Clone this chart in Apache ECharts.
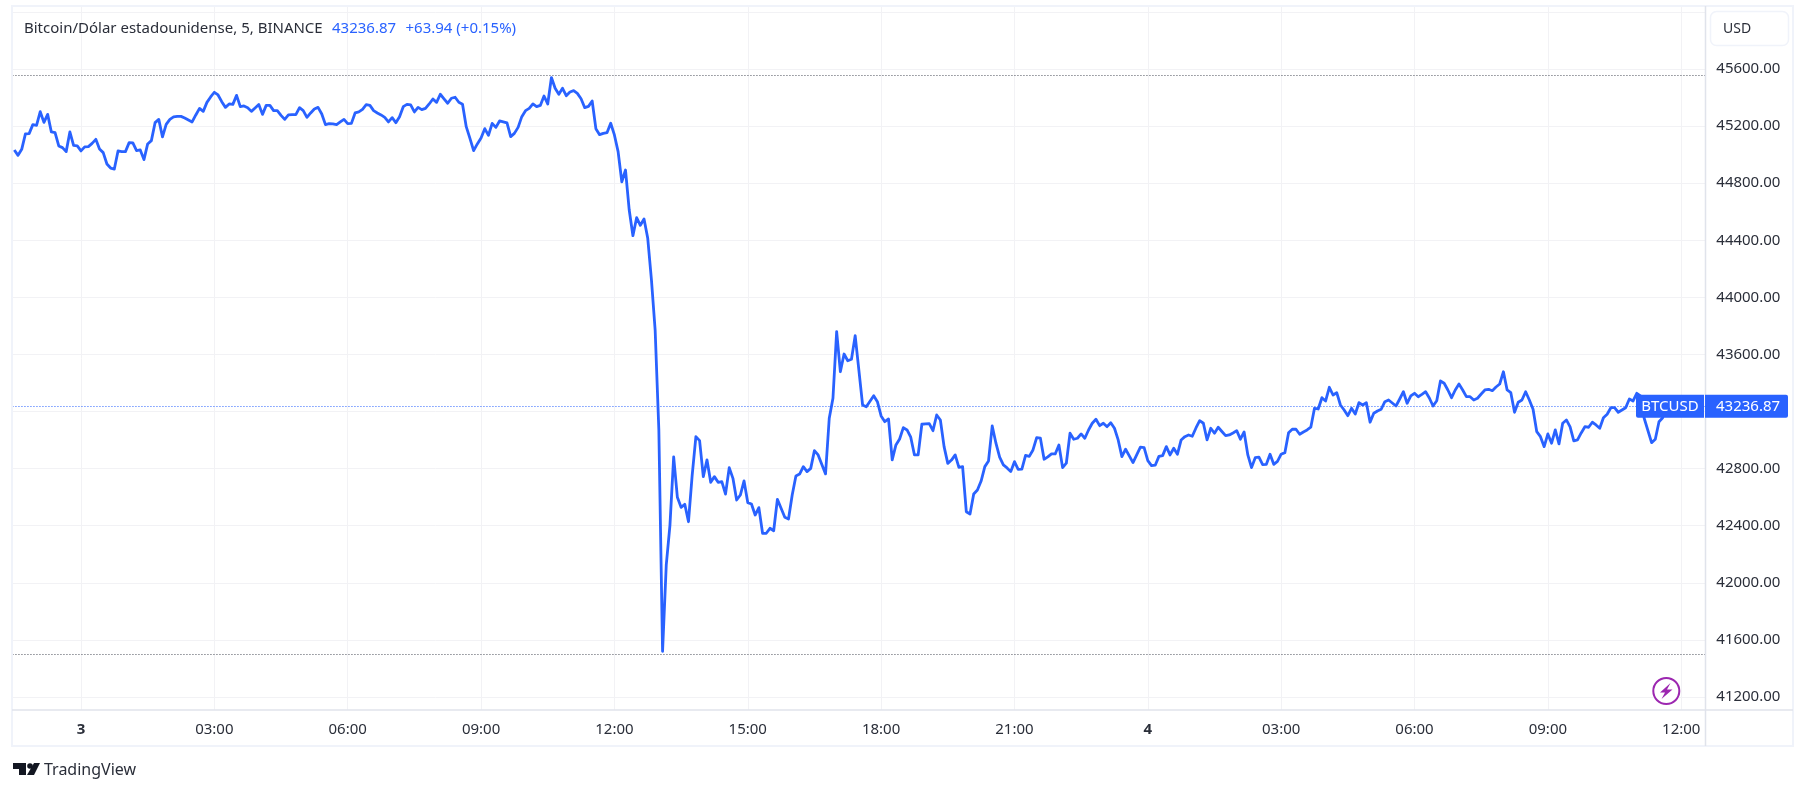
<!DOCTYPE html>
<html>
<head>
<meta charset="utf-8">
<style>html,body{margin:0;padding:0;background:#fff}#c{width:1806px;height:792px}</style>
<script src="https://cdn.jsdelivr.net/npm/echarts@6/dist/echarts.min.js"></script>
</head>
<body>
<div id="c"></div>
<script>
const FONT = '"Noto Sans"';
const TEXT = '#2a2e39';
const BLUE = '#2962ff';
const GRIDLINE = '#f2f2f5';
const FRAME = '#f0f3fa';
const AXISLINE = '#e0e3eb';

const titleText = 'Bitcoin/Dólar estadounidense, 5, BINANCE';
const lastText = '43236.87';
const changeText = '+63.94 (+0.15%)';
const symbolText = 'BTCUSD';
const currencyText = 'USD';
const brandText = 'TradingView';

const dayLabels = {0: '3', 24: '4'};
const slotCount = 457;
const highPrice = 45558;
const lowPrice = 41499;
const lastPrice = 43236.87;
const priceMin = 41200, priceMax = 46000, priceStep = 400;

// close every 5 minutes starting 22:30 on day 2
const prices = [
45033,44995,45037,45145,45147,45210,45205,45301,45226,45282,
45159,45154,45061,45049,45021,45159,45065,45061,45026,45054,
45056,45079,45107,45039,45014,44934,44906,44899,45026,45021,
45021,45084,45082,45028,45033,44965,45075,45098,45224,45247,
45124,45212,45247,45264,45268,45268,45257,45243,45229,45278,
45324,45303,45366,45404,45437,45418,45371,45331,45355,45352,
45415,45336,45341,45329,45303,45327,45352,45282,45345,45345,
45308,45308,45275,45247,45278,45280,45280,45329,45308,45261,
45292,45320,45331,45285,45210,45217,45215,45210,45229,45247,
45217,45219,45292,45299,45317,45350,45345,45308,45292,45278,
45261,45229,45259,45224,45266,45336,45352,45348,45299,45331,
45315,45324,45355,45390,45366,45423,45391,45360,45395,45402,
45367,45353,45196,45114,45028,45075,45117,45182,45135,45219,
45191,45236,45229,45222,45126,45149,45191,45266,45308,45324,
45355,45336,45345,45411,45355,45540,45465,45423,45465,45413,
45439,45448,45429,45392,45329,45338,45376,45182,45140,45149,
45154,45220,45138,45021,44810,44892,44612,44432,44558,44505,
44549,44414,44122,43771,43071,41520,42125,42405,42882,42599,
42529,42550,42428,42755,43024,42996,42744,42861,42704,42744,
42704,42709,42622,42807,42732,42580,42615,42714,42562,42552,
42475,42527,42347,42347,42382,42365,42585,42522,42459,42447,
42615,42748,42762,42814,42779,42802,42926,42896,42829,42763,
43153,43293,43760,43479,43603,43556,43566,43732,null,43246,
43234,null,43311,43269,43169,43129,43148,42861,42966,43008,
43087,43071,43020,42896,42896,43111,43113,43115,43066,43176,
43141,42954,42837,42860,42896,42809,42814,42498,42482,42622,
42650,42713,42814,42854,43099,42978,42880,42826,42805,42779,
42849,42795,42797,42893,42886,42931,43017,43013,42866,42882,
42903,42903,42966,42807,42838,43048,43006,43013,43043,43013,
43071,43118,43146,43101,43118,43094,43122,43083,43001,42884,
42936,42889,42842,42896,42950,42947,42856,42821,42824,42886,
42891,42954,42896,42943,42901,43001,43024,43036,43027,43085,
43136,43118,43001,43083,43048,43090,43060,43031,43036,43050,
43066,43006,43057,42896,42807,42877,42880,42828,42830,42901,
42830,42851,42901,42912,43052,43076,43076,43041,43057,43071,
43090,43223,43218,43297,43274,43370,43316,43332,43246,43211,
43171,43223,43183,43262,43246,43262,43125,43188,43204,43216,
43269,43281,43260,43239,43288,43339,43258,43309,43328,43304,
43320,43339,43295,43239,43276,43414,43398,43351,43297,43351,
43393,43351,43304,43304,43281,43293,43323,43351,43356,43346,
43372,43393,43479,43351,43332,43195,43265,43281,43339,43281,
43216,43059,43024,42954,43043,42978,43071,42973,43118,43141,
43092,42994,43001,43050,43094,43090,43125,43106,43083,43157,
43181,43227,43227,43195,43211,43227,43288,43274,43328,43309,
43153,null,42982,43006,43129,43157,43236.87
];

const pad = n => String(n).padStart(2, '0');
const categories = [];
for (let i = 0; i < slotCount; i++) {
  const minutes = -90 + 5 * i;
  const h = Math.floor(minutes / 60);
  const dh = ((h % 24) + 24) % 24;
  const m = minutes - h * 60;
  categories.push(minutes === 0 || minutes === 1440 ? dayLabels[h] : pad(dh) + ':' + pad(m));
}
const isTick = i => (i - 18) % 36 === 0;

const grid = {left: 12.46, right: 1806 - 1705.3};
const dotted = (value, color) => ({yAxis: value, lineStyle: {color, type: [1, 2], width: 1}});

const chart = echarts.init(document.getElementById('c'), null, {renderer: 'canvas'});

function xAxisFor(gridIndex, visible) {
  return {
    type: 'category', gridIndex, data: categories, boundaryGap: true,
    axisLine: {show: false},
    axisTick: {show: false, alignWithLabel: true, interval: isTick},
    axisLabel: {
      show: visible, interval: isTick, margin: 12, fontFamily: FONT, fontSize: 15, color: TEXT,
      formatter: v => v.length <= 2 ? '{d|' + v + '}' : v,
      rich: {d: {fontFamily: FONT, fontSize: 15, fontWeight: 'bold', color: TEXT}}
    },
    splitLine: {show: visible, alignWithLabel: true, interval: isTick, lineStyle: {color: GRIDLINE, width: 1}}
  };
}

const option = {
  animation: false,
  backgroundColor: '#fff',
  textStyle: {fontFamily: FONT},
  title: {
    left: 19, top: 15,
    text: '{a|' + titleText + '}  {b|' + lastText + '}  {b|' + changeText + '}',
    textStyle: {
      fontWeight: 'normal',
      rich: {
        a: {fontFamily: FONT, fontSize: 15, fontWeight: 'normal', color: TEXT},
        b: {fontFamily: FONT, fontSize: 15, fontWeight: 'normal', color: BLUE}
      }
    }
  },
  grid: [
    {left: grid.left, right: grid.right, top: 7, bottom: 792 - 710},
    {left: grid.left, right: grid.right, top: 11.9, bottom: 95}
  ],
  xAxis: [xAxisFor(0, true), xAxisFor(1, false)],
  yAxis: [
    {type: 'value', gridIndex: 0, min: 0, max: 1, show: false},
    {
      type: 'value', gridIndex: 1, position: 'right', min: priceMin, max: priceMax, interval: priceStep,
      axisLine: {show: false}, axisTick: {show: false},
      axisLabel: {
        margin: 11, fontFamily: FONT, fontSize: 15, color: TEXT,
        formatter: v => v >= priceMax ? '' : v.toFixed(2)
      },
      splitLine: {show: true, lineStyle: {color: GRIDLINE, width: 1}}
    }
  ],
  series: [{
    type: 'line', xAxisIndex: 1, yAxisIndex: 1, data: prices, connectNulls: true,
    showSymbol: false, symbol: 'none', smooth: false, silent: true, z: 5,
    lineStyle: {color: BLUE, width: 2.8, join: 'round'},
    markLine: {
      silent: true, symbol: 'none', animation: false, label: {show: false},
      data: [dotted(highPrice, '#4a4e59'), dotted(lowPrice, '#4a4e59'), dotted(lastPrice, BLUE)]
    }
  }]
};
chart.setOption(option);

const lastY = chart.convertToPixel({yAxisIndex: 1}, lastPrice);
const hline = (x1, x2, y, c) => ({type: 'line', silent: true, z: 50, shape: {x1, y1: y, x2, y2: y}, style: {stroke: c, lineWidth: 1.5}});
const vline = (x, y1, y2, c) => ({type: 'line', silent: true, z: 50, shape: {x1: x, y1, x2: x, y2}, style: {stroke: c, lineWidth: 1.5}});

chart.setOption({
  graphic: [
    {type: 'rect', silent: true, z: 50, shape: {x: 12, y: 6, width: 1781, height: 740}, style: {stroke: FRAME, lineWidth: 2, fill: 'transparent'}},
    hline(12, 1793, 710, AXISLINE),
    vline(1705.5, 6, 746, AXISLINE),
    {type: 'rect', silent: true, z: 60, shape: {x: 1710.5, y: 11.5, width: 78, height: 34, r: 6}, style: {stroke: FRAME, lineWidth: 1.5, fill: '#fff'}},
    {type: 'text', silent: true, z: 61, style: {x: 1723, y: 29, text: currencyText, fill: TEXT, font: '14px ' + FONT, verticalAlign: 'middle'}},
    {type: 'rect', silent: true, z: 60, shape: {x: 1636, y: lastY - 11.5, width: 68, height: 23, r: [2, 0, 0, 2]}, style: {fill: BLUE}},
    {type: 'text', silent: true, z: 61, style: {x: 1670, y: lastY + 0.5, text: symbolText, fill: '#fff', font: '15px ' + FONT, align: 'center', verticalAlign: 'middle'}},
    {type: 'rect', silent: true, z: 60, shape: {x: 1705, y: lastY - 11.5, width: 83, height: 23, r: [0, 2, 2, 0]}, style: {fill: BLUE}},
    {type: 'text', silent: true, z: 61, style: {x: 1716, y: lastY + 0.5, text: lastText, fill: '#fff', font: '15px ' + FONT, verticalAlign: 'middle'}},
    {type: 'circle', silent: true, z: 60, shape: {cx: 1666.3, cy: 691, r: 13}, style: {stroke: '#9c27b0', lineWidth: 2, fill: '#fff'}},
    {type: 'polygon', silent: true, z: 61, shape: {points: [[1670.5,683],[1660,692.5],[1665,692.5],[1661.5,699],[1672.5,689.5],[1667,689.5]]}, style: {fill: '#9c27b0'}},
    {type: 'polygon', silent: true, z: 60, shape: {points: [[13,763],[26,763],[26,775],[19,775],[19,769],[13,769]]}, style: {fill: '#131722'}},
    {type: 'circle', silent: true, z: 60, shape: {cx: 30, cy: 766, r: 2.8}, style: {fill: '#131722'}},
    {type: 'polygon', silent: true, z: 60, shape: {points: [[34,763],[40,763],[34,775],[27,775]]}, style: {fill: '#131722'}},
    {type: 'text', silent: true, z: 60, style: {x: 44, y: 770, text: brandText, fill: TEXT, font: '16px ' + FONT, verticalAlign: 'middle'}}
  ]
});
</script>
</body>
</html>
